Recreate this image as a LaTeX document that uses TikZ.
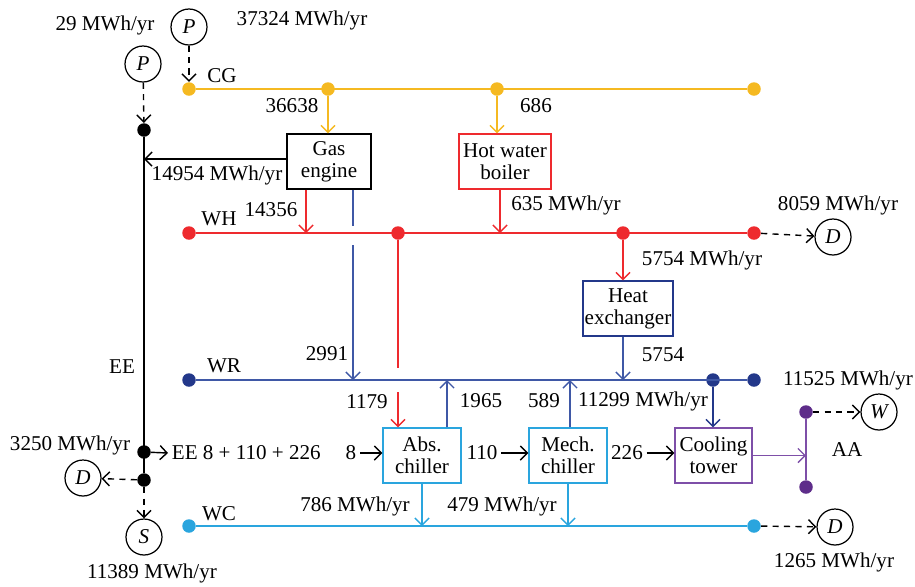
\documentclass[tikz,border=0pt]{standalone}
\usepackage{fontspec}
\setmainfont{Liberation Serif}
\usetikzlibrary{arrows.meta}

\definecolor{cgcol}{HTML}{F5B921}
\definecolor{whcol}{HTML}{EE2A2E}
\definecolor{wrcol}{HTML}{3F58A6}
\definecolor{wrdot}{HTML}{23388A}
\definecolor{wccol}{HTML}{2AA5DE}
\definecolor{aacol}{HTML}{7E4FA8}
\definecolor{aadot}{HTML}{5E2D8A}

\tikzset{
  busdot/.style={circle,fill,inner sep=0pt,minimum size=0.27cm},
  unitbox/.style={draw,line width=0.8pt,align=center,inner sep=0pt,
    minimum height=1.1cm,font=\fontsize{12}{12.5}\selectfont},
  flow/.style={-{Straight Barb[length=4pt,width=8pt]},line width=0.8pt},
  ext/.style={circle,draw,line width=0.7pt,minimum size=0.72cm,inner sep=0pt,
    font=\fontsize{12}{13}\selectfont\itshape},
  lbl/.style={inner sep=2pt,font=\fontsize{12}{13}\selectfont},
  ldash/.style={dash pattern=on 3.5pt off 3pt}
}

\begin{document}
\begin{tikzpicture}[x=0.02cm,y=-0.02cm]
    \useasboundingbox (0,0) rectangle (915,586);

    % Outside sources and sinks
    \node[ext] (pcg) at (189,27) {P};
    \node[ext] (pee) at (143,64) {P};
    \node[ext] (dwh) at (833,237) {D};
    \node[ext] (waa) at (879,412) {W};
    \node[ext] (dwc) at (835,527) {D};
    \node[ext] (dee) at (83,478) {D};
    \node[ext] (see) at (144,537) {S};

    % Units
    \node[unitbox,minimum width=1.68cm] (gas) at (329,161.5) {Gas\\engine};
    \node[unitbox,whcol,minimum width=1.84cm] (boil) at (505,161.5) {\color{black}Hot water\\\color{black}boiler};
    \node[unitbox,wrdot,minimum width=1.8cm] (hx) at (628,308.5) {\color{black}Heat\\\color{black}exchanger};
    \node[unitbox,wccol,minimum width=1.56cm] (abs) at (422,455.5) {\color{black}Abs.\\\color{black}chiller};
    \node[unitbox,wccol,minimum width=1.56cm] (mech) at (568,455.5) {\color{black}Mech.\\\color{black}chiller};
    \node[unitbox,aacol,minimum width=1.54cm] (ct) at (713.5,455.5) {\color{black}Cooling\\\color{black}tower};

    % CG bus
    \node[busdot,cgcol] (cg1) at (189,89) {};
    \node[busdot,cgcol] (cg2) at (328,89) {};
    \node[busdot,cgcol] (cg3) at (497,89) {};
    \node[busdot,cgcol] (cg4) at (754,89) {};
    \draw[cgcol,line width=0.8pt] (cg1) -- (cg4);
    \draw[flow,cgcol] (cg2) -- (gas.north -| cg2);
    \draw[flow,cgcol] (cg3) -- (boil.north -| cg3);
    \draw[flow,ldash] (pcg) -- (cg1);

    % EE line
    \node[busdot] (ee1) at (144,130) {};
    \node[busdot] (ee2) at (144,452) {};
    \node[busdot] (ee3) at (144,480) {};
    \draw[line width=0.8pt] (ee1) -- (ee3);
    \draw[flow,ldash] (pee) -- (ee1);
    \coordinate (gasout) at (288,159);
    \draw[flow] (gasout) -- (gasout -| ee1);
    \node[lbl,anchor=west] (eeuse) at (168,453) {EE 8 + 110 + 226};
    \draw[flow] (ee2) -- (eeuse.west);
    \draw[flow,ldash] (ee3) -- (dee);
    \draw[flow,ldash] (ee3) -- (see);

    % WH bus
    \node[busdot,whcol] (wh1) at (189,233) {};
    \node[busdot,whcol] (wh2) at (398,233) {};
    \node[busdot,whcol] (wh3) at (623,233) {};
    \node[busdot,whcol] (wh4) at (754,233) {};
    \draw[whcol,line width=0.8pt] (wh1) -- (wh4);
    \coordinate (whA) at (306,233);
    \coordinate (whB) at (500,233);
    \draw[flow,whcol] (gas.south -| whA) -- (whA);
    \draw[flow,whcol] (boil.south -| whB) -- (whB);
    \draw[flow,whcol] (wh3) -- (hx.north -| wh3);
    \draw[flow,ldash] (wh4) -- (dwh);

    % WR bus
    \node[busdot,wrdot] (wr1) at (189,380) {};
    \node[busdot,wrdot] (wr2) at (713,380) {};
    \node[busdot,wrdot] (wr3) at (754,380) {};
    \draw[wrcol,line width=0.8pt] (wr1) -- (wr3);
    \coordinate (wrA) at (353,380);
    \coordinate (gapA) at (353,226);
    \coordinate (gapB) at (353,245);
    \draw[wrcol,line width=0.8pt] (gas.south -| wrA) -- (gapA);
    \draw[flow,wrcol] (gapB) -- (wrA);
    \coordinate (gapC) at (398,368);
    \coordinate (gapD) at (398,392);
    \draw[whcol,line width=0.8pt] (wh2) -- (gapC);
    \draw[flow,whcol] (gapD) -- (abs.north -| gapD);
    \coordinate (wrC) at (623,380);
    \draw[flow,wrcol] (hx.south -| wrC) -- (wrC);
    \coordinate (wrD) at (447,380);
    \coordinate (wrE) at (570,380);
    \draw[flow,wrcol] (abs.north -| wrD) -- (wrD);
    \draw[flow,wrcol] (mech.north -| wrE) -- (wrE);
    \draw[flow,wrdot] (wr2) -- (ct.north -| wr2);

    % Chiller row
    \node[lbl] (in8) at (351,453) {8};
    \node[lbl] (in110) at (482,453) {110};
    \node[lbl] (in226) at (627,453) {226};
    \draw[flow] (in8) -- (abs.west |- in8);
    \draw[flow] (in110) -- (mech.west |- in110);
    \draw[flow] (in226) -- (ct.west |- in226);

    % AA line
    \node[busdot,aadot] (aa1) at (806,412) {};
    \node[busdot,aadot] (aa2) at (806,487) {};
    \draw[aacol,line width=0.8pt] (aa1) -- (aa2);
    \draw[flow,aacol] (ct.east) -- (ct.east -| aa1);
    \draw[flow,ldash] (aa1) -- (waa);

    % WC bus
    \node[busdot,wccol] (wc1) at (189,526) {};
    \node[busdot,wccol] (wc2) at (754,526) {};
    \draw[wccol,line width=0.8pt] (wc1) -- (wc2);
    \draw[flow,wccol] (abs.south) -- (abs.south |- wc1);
    \draw[flow,wccol] (mech.south) -- (mech.south |- wc1);
    \draw[flow,ldash] (wc2) -- (dwc);

    % Labels
    \node[lbl] (t29) at (105,25) {29 MWh/yr};
    \node[lbl] (t37324) at (302,20) {37324 MWh/yr};
    \node[lbl] (tcg) at (222,76) {CG};
    \node[lbl] (t36638) at (292,106) {36638};
    \node[lbl] (t686) at (536,106) {686};
    \node[lbl] (t14954) at (217,175) {14954 MWh/yr};
    \node[lbl] (twh) at (219,219) {WH};
    \node[lbl] (t14356) at (271,210) {14356};
    \node[lbl] (t635) at (566,205) {635 MWh/yr};
    \node[lbl] (t8059) at (838,205) {8059 MWh/yr};
    \node[lbl] (t5754a) at (702,260) {5754 MWh/yr};
    \node[lbl] (t5754b) at (663,355) {5754};
    \node[lbl] (tee) at (122,367) {EE};
    \node[lbl] (twr) at (224,366) {WR};
    \node[lbl] (t2991) at (327,354) {2991};
    \node[lbl] (t11525) at (848,380) {11525 MWh/yr};
    \node[lbl] (t1179) at (367,402) {1179};
    \node[lbl] (t1965) at (481,401) {1965};
    \node[lbl] (t589) at (544,401) {589};
    \node[lbl] (t11299) at (643,401) {11299 MWh/yr};
    \node[lbl] (taa) at (847,450) {AA};
    \node[lbl] (t3250) at (70,445) {3250 MWh/yr};
    \node[lbl] (t786) at (355,506) {786 MWh/yr};
    \node[lbl] (t479) at (502,506) {479 MWh/yr};
    \node[lbl] (twc) at (219,514) {WC};
    \node[lbl] (t1265) at (834,562) {1265 MWh/yr};
    \node[lbl] (t11389) at (152,573) {11389 MWh/yr};
\end{tikzpicture}
\end{document}
